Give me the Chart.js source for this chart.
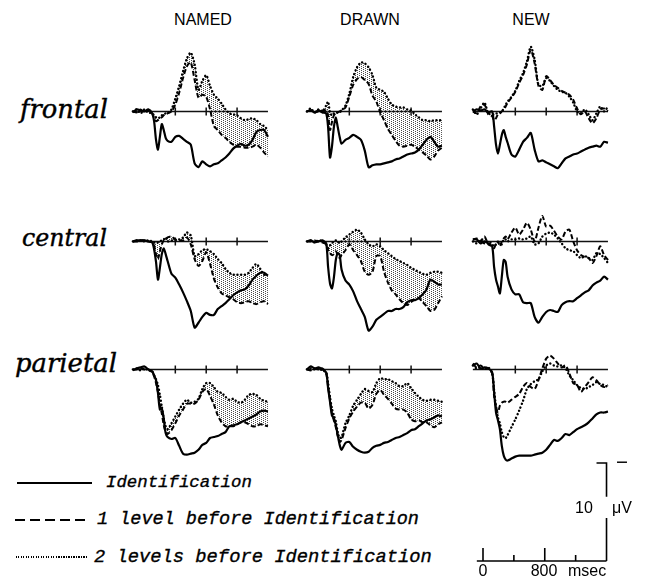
<!DOCTYPE html>
<html><head><meta charset="utf-8">
<script src="https://cdn.jsdelivr.net/npm/chart.js@4.4.1/dist/chart.umd.min.js"></script>
<style>
html,body{margin:0;padding:0;background:#fff;}
#wrap{position:relative;width:645px;height:580px;overflow:hidden;background:#fff;}
#wrap canvas{position:absolute;}
.t{position:absolute;white-space:nowrap;color:#000;line-height:1;}
.col{font-family:"Liberation Sans",Arial,sans-serif;font-size:16px;}
.row{font-family:"DejaVu Serif",serif;font-style:italic;font-weight:normal;font-size:21px;-webkit-text-stroke:0.4px #000;}
.leg{font-family:"Liberation Mono",monospace;font-style:italic;font-weight:normal;font-size:18px;-webkit-text-stroke:0.35px #000;}
.sc{font-family:"Liberation Sans",Arial,sans-serif;font-size:16px;}
.ln{position:absolute;}
</style></head>
<body><div id="wrap"></div>
<script>
// ---------------- data ----------------
const times = [-150,-100,-50,0,50,100,125,150,175,200,225,250,275,300,350,400,450,500,550,600,650,700,750,800,850,900,950,1000,1050,1100,1150,1200,1250,1300,1350,1400,1450,1500,1550,1600];
const conditions = ['NAMED','DRAWN','NEW'];
const sites = ['frontal','central','parietal'];
const seriesNames = ['Identification','1  level before Identification','2  levels before Identification'];
const axisTicksMs = [400,800,1200];
const scaleTicksMs = [0,400,800,1200];
const scaleTickLabels = ['0','','800',''];
const scaleBarMs = 1600, scaleBarUv = 10;

// values in microvolts (negative plotted up)
const frontalNamedIdent = [0.1,-0.2,-0.1,0,-0.2,0.2,1.0,2.9,3.9,2.6,1.3,1.9,2.7,3.0,3.1,2.6,2.5,2.8,3.1,3.4,5.3,5.7,5.1,5.4,5.6,5.4,5.3,5.0,4.7,4.3,3.8,3.5,3.3,3.5,3.4,2.9,2.1,1.9,1.9,2.6];
const frontalNamedLvl1  = [0,0.1,-0.2,0.1,-0.1,0.2,0.7,1.0,0.9,0.7,0.6,0.4,0.3,0.2,0,-0.7,-1.9,-3.4,-4.6,-5.0,-3.2,-1.4,-1.7,-1.5,-0.2,1.5,1.9,2.4,2.7,3.1,3.4,3.6,3.6,3.7,3.7,3.6,3.4,3.7,4.2,4.6];
const frontalNamedLvl2  = [0,-0.2,0.2,-0.2,0.1,0.2,0.4,0.6,0.7,0.6,0.4,0.3,0.2,0.2,-0.2,-1.3,-2.6,-4.1,-5.4,-6.0,-4.8,-2.2,-3.1,-3.7,-2.6,-1.7,-1.3,-0.8,-0.2,0.2,0.3,0.4,0.7,0.9,0.8,0.7,0.9,1.3,1.5,1.9];

const frontalDrawnIdent = [0,-0.1,0.1,-0.1,0.1,0.2,1.6,4.7,3.6,1.6,0.6,1.6,2.6,3.3,2.9,2.7,2.4,2.6,2.9,4.0,5.7,5.5,5.4,5.4,5.3,5.2,5.1,4.9,4.8,4.6,4.4,4.3,4.2,3.9,3.4,2.9,2.6,3.1,3.6,3.5];
const frontalDrawnLvl1  = [0,-0.1,0.1,0,-0.1,-0.1,0.4,1.9,1.1,0.4,0.2,0.1,0,-0.1,-0.4,-1.5,-2.7,-3.3,-3.5,-3.2,-2.8,-1.6,-1.0,0.1,0.9,1.8,2.4,3.0,3.5,3.6,3.5,3.4,3.6,3.9,4.2,4.5,4.9,4.6,4.0,3.7];
const frontalDrawnLvl2  = [0,-0.3,0.1,-0.2,0,-0.6,-1.0,0.1,0.4,0.2,0.2,0.1,0.1,-0.1,-0.6,-1.8,-3.5,-4.5,-5.0,-4.9,-4.5,-3.7,-2.4,-2.2,-2.0,-1.3,-0.7,-0.5,-0.4,-0.4,-0.2,-0.1,0.3,0.6,0.9,0.9,1.0,0.9,0.9,0.9];

const frontalNewIdent = [0,-0.2,-0.1,-0.2,0.1,0,1.5,3.4,4.3,3.4,2.4,1.9,2.6,3.2,4.4,4.6,3.9,3.1,2.7,2.2,3.9,5.1,5.0,5.2,5.4,5.6,5.8,5.3,4.8,4.6,4.4,4.3,4.1,3.9,3.7,3.6,3.5,3.6,3.1,3.2];
const frontalNewLvl1  = [0,0.2,-0.5,-0.7,0.3,0.5,0.9,0.7,0.3,0.2,0,-0.2,-0.5,-0.9,-1.4,-2.0,-2.9,-3.7,-4.8,-6.3,-4.9,-2.6,-2.2,-3.6,-3.2,-2.7,-2.4,-2.1,-1.9,-1.7,-1.2,-0.3,0.3,0,0.7,1.2,0.7,-0.2,-0.3,0];
const frontalNewLvl2  = [-0.2,0.3,-0.3,-0.9,0.2,0.3,0.3,0.2,0.2,0.1,0,-0.3,-0.7,-1.0,-1.5,-2.1,-3.1,-3.9,-5.1,-6.6,-5.3,-2.7,-2.6,-3.4,-3.1,-2.6,-2.2,-2.0,-1.9,-1.5,-0.9,0,0.2,-0.2,0.3,0.9,0.2,-0.5,0,-0.5];

const centralNamedIdent = [0,-0.1,-0.1,-0.1,0,0.1,0.8,2.1,3.9,2.7,1.3,0.7,1.3,2.0,3.3,3.7,4.4,5.2,6.1,7.1,8.8,8.3,7.7,7.3,7.5,7.5,6.9,6.6,6.3,5.9,5.5,5.2,5.0,4.9,4.5,3.9,3.5,3.2,3.2,3.5];
const centralNamedLvl1  = [0,0,-0.1,-0.1,0,0.1,0.4,1.3,1.8,1.0,0.3,-0.1,-0.2,-0.4,-0.5,-0.2,-0.1,-0.1,-0.4,0.3,1.8,2.5,2.0,1.1,2.3,3.8,4.7,5.3,5.5,5.7,5.9,6.2,6.3,6.2,6.1,6.3,6.4,6.2,6.1,6.4];
const centralNamedLvl2  = [0,-0.1,-0.1,0,-0.1,0,0.1,0.2,0.1,0,-0.1,-0.2,-0.4,0,-0.1,-0.1,-0.2,-0.4,-0.9,-0.6,1.5,1.3,0.9,0.8,1.0,1.3,1.8,2.2,2.8,3.2,3.4,3.4,3.4,3.4,3.2,2.7,2.3,2.8,3.4,3.4];

const centralDrawnIdent = [0,-0.1,0.1,0,-0.1,0.2,2.6,4.3,4.8,3.7,1.9,1.2,1.4,2.9,4.0,4.4,5.1,6.1,6.9,7.7,9.1,8.7,8.0,7.7,7.4,7.1,7.1,6.9,6.9,6.7,6.2,6.0,6.0,5.8,5.4,4.9,3.9,4.1,4.4,4.4];
const centralDrawnLvl1  = [0,0,-0.1,0,0.1,0.3,0.9,1.2,1.4,1.3,1.0,1.4,1.7,1.4,0.9,0.3,0.9,1.4,2.0,3.1,3.4,3.1,1.5,1.5,3.1,4.2,5.0,5.4,5.9,6.3,6.5,6.2,5.9,5.8,6.2,6.6,7.1,7.0,6.3,5.6];
const centralDrawnLvl2  = [0,-0.1,0.1,-0.1,0,0.3,0.7,0.4,0.2,0,-0.1,0,0.2,0,-0.4,-0.7,-1.0,-1.2,-0.9,-0.2,0.3,0.5,0.3,0.5,0.9,1.2,1.5,1.8,2.0,2.2,2.4,2.7,2.9,3.1,3.3,3.4,3.2,3.1,3.1,3.2];

const centralNewIdent = [-0.2,-0.2,0.2,0,0.2,0.5,2.6,3.9,4.6,5.3,3.6,1.9,2.1,3.6,4.9,5.4,5.4,6.2,6.3,6.3,7.7,8.3,7.7,7.2,7.0,7.1,7.2,6.5,6.2,6.1,6.1,5.8,5.5,5.2,5.0,4.5,4.2,4.0,3.6,3.9];
const centralNewLvl1  = [-0.2,-0.3,0,-0.5,0.3,0.5,0.7,0.2,0,0.5,0,-0.3,-0.5,-0.2,-0.9,-1.4,-0.7,-1.2,-1.9,-1.2,0,-1.4,-2.6,-1.5,-1.6,-1.1,-0.5,-0.2,-1.0,-1.2,0,0.9,1.4,1.6,1.7,2.2,1.5,0.5,1.4,1.9];
const centralNewLvl2  = [0,0.2,-0.2,0.2,0,0.3,0.5,0.3,0.1,0.2,0.3,-0.2,-0.2,0,-0.2,-0.2,-0.3,-0.2,-0.3,-0.5,0.3,0.2,-0.5,-0.8,-0.9,-0.7,-0.3,0.2,0.7,0.9,1.0,1.4,1.7,1.5,1.7,1.9,1.2,1.3,1.7,2.2];

const parietalNamedIdent = [0.1,-0.1,-0.2,-0.3,0,0.2,0.6,1.1,2.4,4.1,4.0,5.0,6.5,6.9,7.1,7.0,7.8,8.6,8.7,8.6,8.5,8.2,7.7,7.5,7.0,6.9,6.8,6.6,6.4,5.8,5.7,5.6,5.4,5.2,5.0,4.8,4.6,4.3,4.2,4.3];
const parietalNamedLvl1  = [0,0,-0.1,0,0,0.3,0.7,1.4,2.3,3.6,4.5,5.7,6.4,6.6,6.2,5.5,4.7,4.1,3.5,3.5,3.5,3.1,2.3,2.0,2.7,3.6,4.7,5.4,5.8,5.8,5.8,5.6,5.4,5.4,5.6,5.8,5.8,5.6,5.7,5.8];
const parietalNamedLvl2  = [0,-0.1,0.1,-0.1,0.1,0.2,0.6,1.0,1.6,2.6,3.8,5.0,5.8,6.1,5.5,4.8,4.1,3.5,3.1,3.4,3.3,3.0,2.0,1.4,1.4,1.8,2.3,2.4,2.8,3.1,3.0,3.3,3.4,3.1,2.6,2.5,2.6,3.0,3.2,3.3];

const parietalDrawnIdent = [0,-0.3,-0.1,-0.2,0,0.3,1.9,3.3,4.7,5.0,5.7,6.7,7.7,8.2,7.5,7.4,7.9,8.2,8.4,8.5,8.4,8.0,7.8,7.7,7.5,7.4,7.2,7.0,6.9,6.7,6.5,6.2,6.1,5.8,5.5,5.2,5.1,4.9,4.7,4.8];
const parietalDrawnLvl1  = [0,0.1,-0.1,0,-0.1,0.4,1.8,3.1,4.5,5.2,5.9,6.8,7.4,7.2,6.0,5.0,4.3,3.8,3.4,3.4,4.0,3.6,2.5,2.1,2.6,3.0,3.5,4.0,4.1,4.1,4.4,5.1,5.3,5.2,5.4,5.4,5.7,5.9,5.6,5.4];
const parietalDrawnLvl2  = [0,-0.1,0,-0.1,0.1,0.3,1.4,2.8,4.0,4.7,5.3,6.4,7.0,6.9,5.5,4.7,3.7,3.1,2.5,2.0,2.2,2.3,1.4,0.9,1.0,1.0,1.2,1.4,1.7,1.7,1.4,1.9,2.4,2.8,3.1,3.2,3.1,3.1,3.2,3.3];

const parietalNewIdent = [-0.4,-0.6,-0.1,-0.2,-0.1,0.3,2.3,4.4,5.2,6.1,7.8,8.8,9.2,9.3,9.1,8.9,8.8,8.8,8.8,8.8,8.7,8.6,8.5,8.2,7.7,7.2,7.3,7.0,6.6,6.7,6.4,6.1,5.9,5.7,5.4,5.0,4.6,4.4,4.4,4.3];
const parietalNewLvl1  = [-0.6,-0.2,-0.4,-0.1,-0.1,0.4,2.7,3.8,4.4,3.7,3.4,3.3,3.3,3.4,3.1,2.8,2.5,1.8,1.4,1.8,2.0,1.1,-0.1,-1.1,-1.4,-1.1,-0.6,-0.2,-0.4,0.4,1.4,1.6,2.3,1.8,1.3,0.8,1.1,1.6,1.8,1.6];
const parietalNewLvl2  = [-0.4,-0.1,-0.2,0,-0.2,0.4,2.1,3.8,4.9,5.5,6.4,6.9,7.0,6.7,5.9,5.1,4.2,3.2,2.0,1.5,1.2,1.0,0.2,-0.4,-0.6,-0.4,-0.3,-0.4,-0.1,0.6,1.1,1.6,1.9,2.0,1.8,1.6,1.3,1.5,1.6,1.8];

// ---------------- layout ----------------
const PX_PER_MS = 0.0772, PX_PER_UV = 9.8;
const ROW_BASE = [111, 241.5, 369];
const COL_ONSET = [144.5, 318, 484];
const CW = 143, CH = 182, XMIN = -200, YMIN = -8;

const panels = [
  {r:0,c:0,d:[frontalNamedIdent,frontalNamedLvl1,frontalNamedLvl2],shade:true},
  {r:0,c:1,d:[frontalDrawnIdent,frontalDrawnLvl1,frontalDrawnLvl2],shade:true},
  {r:0,c:2,d:[frontalNewIdent,frontalNewLvl1,frontalNewLvl2],shade:false},
  {r:1,c:0,d:[centralNamedIdent,centralNamedLvl1,centralNamedLvl2],shade:true},
  {r:1,c:1,d:[centralDrawnIdent,centralDrawnLvl1,centralDrawnLvl2],shade:true},
  {r:1,c:2,d:[centralNewIdent,centralNewLvl1,centralNewLvl2],shade:false},
  {r:2,c:0,d:[parietalNamedIdent,parietalNamedLvl1,parietalNamedLvl2],shade:true},
  {r:2,c:1,d:[parietalDrawnIdent,parietalDrawnLvl1,parietalDrawnLvl2],shade:true},
  {r:2,c:2,d:[parietalNewIdent,parietalNewLvl1,parietalNewLvl2],shade:false}
];

const wrap = document.getElementById('wrap');

function stipple(){
  const c = document.createElement('canvas'); c.width = 4; c.height = 2;
  const g = c.getContext('2d');
  g.fillStyle = '#4a4a4a';
  g.fillRect(0,0,1,1); g.fillRect(2,1,1,1);
  return g.createPattern(c,'repeat');
}
const STIPPLE = stipple();

const baselinePlugin = {
  id:'baseline',
  beforeDatasetsDraw(chart){
    const {ctx, scales:{x,y}} = chart;
    const y0 = y.getPixelForValue(0);
    ctx.save();
    ctx.strokeStyle = '#111'; ctx.lineWidth = 1.5;
    ctx.beginPath();
    ctx.moveTo(x.getPixelForValue(times[0]), y0);
    ctx.lineTo(x.getPixelForValue(times[times.length-1]), y0);
    axisTicksMs.forEach(t => { const px = x.getPixelForValue(t); ctx.moveTo(px, y0-4); ctx.lineTo(px, y0+4); });
    ctx.stroke();
    ctx.restore();
  }
};

function xy(arr){ return times.map((t,i)=>({x:t,y:arr[i]})); }

panels.forEach(p=>{
  const cv = document.createElement('canvas');
  cv.width = CW; cv.height = CH;
  cv.style.width = CW+'px'; cv.style.height = CH+'px';
  cv.style.left = (COL_ONSET[p.c] + XMIN*PX_PER_MS) + 'px';
  cv.style.top  = (ROW_BASE[p.r] + YMIN*PX_PER_UV) + 'px';
  wrap.appendChild(cv);
  new Chart(cv, {
    type:'line',
    data:{datasets:[
      {label:seriesNames[0], data:xy(p.d[0]), borderColor:'#000', borderWidth:2.2, pointRadius:0, tension:0.25, fill:false},
      {label:seriesNames[1], data:xy(p.d[1]), borderColor:'#000', borderWidth:2, borderDash:[5,2.5], pointRadius:0, tension:0.25, fill:false},
      {label:seriesNames[2], data:xy(p.d[2]), borderColor:'#000', borderWidth:2.4, borderDash:[0.1,3.6], borderCapStyle:'round', pointRadius:0, tension:0.25,
        fill: p.shade ? {target:1} : false, backgroundColor: STIPPLE}
    ]},
    options:{
      responsive:false, animation:false, events:[], devicePixelRatio:1,
      layout:{padding:0},
      plugins:{legend:{display:false}, tooltip:{enabled:false}},
      scales:{
        x:{type:'linear', display:false, min:XMIN, max:XMIN + CW/PX_PER_MS},
        y:{type:'linear', display:false, reverse:true, min:YMIN, max:YMIN + CH/PX_PER_UV}
      }
    },
    plugins:[baselinePlugin]
  });
});

// ---------------- calibration bar ----------------
const SB = {left:468, top:452, w:172, h:126, zeroX:483, zeroY:561};
const scaleBarPlugin = {
  id:'scalebar',
  afterDraw(chart){
    const {ctx, scales:{x,y}} = chart;
    const y0 = y.getPixelForValue(0);
    const xe = x.getPixelForValue(scaleBarMs);
    ctx.save();
    ctx.strokeStyle = '#000'; ctx.lineWidth = 1.6; ctx.lineCap = 'butt';
    ctx.beginPath();
    ctx.moveTo(x.getPixelForValue(-80), y0); ctx.lineTo(xe, y0);
    scaleTicksMs.forEach((t,i)=>{ const px = x.getPixelForValue(t); const len = scaleTickLabels[i] ? 13 : 6; ctx.moveTo(px, y0); ctx.lineTo(px, y0-len); });
    ctx.moveTo(xe, y0); ctx.lineTo(xe, y.getPixelForValue(-scaleBarUv*0.44));
    ctx.moveTo(xe, y.getPixelForValue(-scaleBarUv*0.655)); ctx.lineTo(xe, y.getPixelForValue(-scaleBarUv));
    ctx.lineTo(xe-10, y.getPixelForValue(-scaleBarUv));
    ctx.stroke();
    ctx.restore();
  }
};
{
  const cv = document.createElement('canvas');
  cv.width = SB.w; cv.height = SB.h;
  cv.style.width = SB.w+'px'; cv.style.height = SB.h+'px';
  cv.style.left = SB.left+'px'; cv.style.top = SB.top+'px';
  wrap.appendChild(cv);
  const xmin = -(SB.zeroX-SB.left)/PX_PER_MS, ymin = -(SB.zeroY-SB.top)/PX_PER_UV;
  new Chart(cv,{
    type:'line',
    data:{datasets:[{data:[], pointRadius:0}]},
    options:{responsive:false, animation:false, events:[], devicePixelRatio:1, layout:{padding:0},
      plugins:{legend:{display:false}, tooltip:{enabled:false}},
      scales:{x:{type:'linear',display:false,min:xmin,max:xmin+SB.w/PX_PER_MS},
              y:{type:'linear',display:false,reverse:true,min:ymin,max:ymin+SB.h/PX_PER_UV}}},
    plugins:[scaleBarPlugin]
  });
}

// ---------------- text ----------------
function addText(txt, cls, opts){
  const el = document.createElement('div');
  el.className = 't ' + cls; el.textContent = txt;
  wrap.appendChild(el);
  if (opts.w){
    const w = el.getBoundingClientRect().width;
    const fs = parseFloat(getComputedStyle(el).fontSize);
    el.style.fontSize = (fs*opts.w/w) + 'px';
  }
  const r = el.getBoundingClientRect();
  const fs = parseFloat(getComputedStyle(el).fontSize);
  if (opts.cx !== undefined) el.style.left = (opts.cx - r.width/2) + 'px';
  else el.style.left = opts.x + 'px';
  el.style.top = (opts.cy - fs/2) + 'px';
  return el;
}
const colCx = [203, 370, 531];
conditions.forEach((c,i)=>addText(c,'col',{cx:colCx[i], cy:20}));
const rowX = [20, 22, 15], rowW = [88, 85, 102], rowCy = [110, 239, 364];
sites.forEach((s,i)=>addText(s,'row',{x:rowX[i], cy:rowCy[i], w:rowW[i]}));

// legend
const legY = [483, 520, 557];
addText(seriesNames[0],'leg',{x:106, cy:legY[0], w:146});
addText('1  level before Identification','leg',{x:97, cy:legY[1], w:322});
addText('2  levels before Identification','leg',{x:94, cy:legY[2], w:338});
function addLine(x,y,w,h,bg){ const d=document.createElement('div'); d.className='ln'; d.style.left=x+'px'; d.style.top=y+'px'; d.style.width=w+'px'; d.style.height=h+'px'; d.style.background=bg; wrap.appendChild(d); }
addLine(17, legY[0]-1, 75, 2, '#000');
addLine(15, legY[1]-1, 74, 2, 'repeating-linear-gradient(90deg,#000 0 10px,transparent 10px 15px)');
addLine(16, legY[2]-1, 71, 1.5, 'repeating-linear-gradient(90deg,#000 0 1px,transparent 1px 2.5px)');

// calibration labels
addText('0','sc',{cx:483, cy:571});
addText('800','sc',{cx:544, cy:571});
addText('msec','sc',{x:568, cy:571});
addText('10','sc',{x:575, cy:508});
addText('\u03BCV','sc',{x:612, cy:508});
addText('\u2212','sc',{x:616, cy:462, w:12});
</script>
</body></html>
